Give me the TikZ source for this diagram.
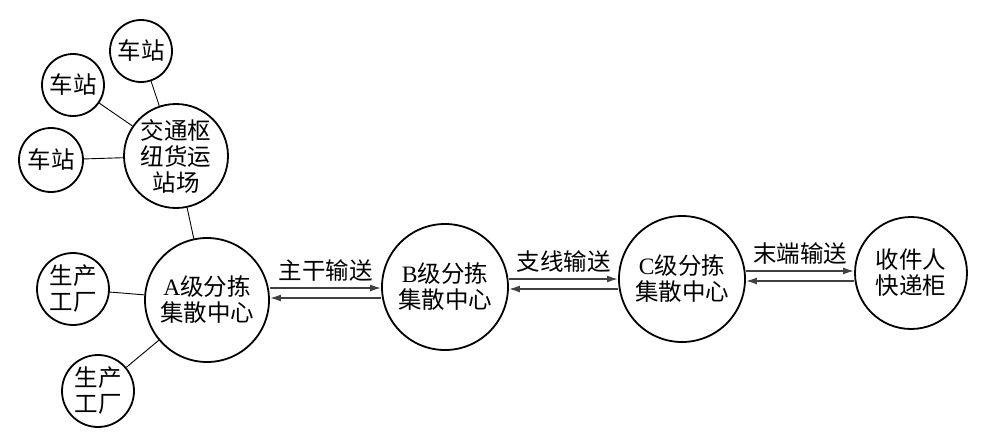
\documentclass[tikz,border=0pt]{standalone}
\usepackage{fontspec}
\setmainfont{Noto Sans CJK SC}
\newfontfamily\latin{Liberation Serif}
\usetikzlibrary{arrows.meta}

\begin{document}
\begin{tikzpicture}[x=1pt,y=-1pt,
  rond/.style={circle,draw,line width=1.8pt,inner sep=0pt,align=center,
    font=\fontsize{23.5}{26}\selectfont},
  lien/.style={line width=0.9pt},
  flux/.style={line width=1.6pt,draw=black!75,-{Latex[length=11pt,width=7pt]}},
  etiq/.style={above=2pt,font=\fontsize{23.5}{26}\selectfont}]
  \useasboundingbox (0,0) rectangle (986,440);
  % stations et gare
  \node[rond,minimum size=62pt] (st1) at (141,51) {车站};
  \node[rond,minimum size=62pt] (st2) at (73,85) {车站};
  \node[rond,minimum size=64pt] (st3) at (51,160) {车站};
  \node[rond,minimum size=104pt] (hub) at (176,156) {交通枢\\纽货运\\站场};
  % usines
  \node[rond,minimum size=72pt] (fa1) at (73,289) {生产\\工厂};
  \node[rond,minimum size=72pt] (fa2) at (98,391) {生产\\工厂};
  % centres
  \node[rond,minimum size=124pt] (A) at (207,300) {{\latin A}级分拣\\集散中心};
  \node[rond,minimum size=126pt] (B) at (445,287) {{\latin B}级分拣\\集散中心};
  \node[rond,minimum size=126pt] (C) at (682,279) {{\latin C}级分拣\\集散中心};
  \node[rond,minimum size=112pt] (D) at (911,273) {收件人\\快递柜};
  % liens
  \foreach \n in {st1,st2,st3}
    \draw[lien] (\n) -- (hub);
  \draw[lien] (hub) -- (A);
  \foreach \n in {fa1,fa2}
    \draw[lien] (\n) -- (A);
  % flux
  \draw[flux] (A.east |- 0,288) -- node[etiq] {主干输送} (B.west |- 0,288);
  \draw[flux] (B.west |- 0,298) -- (A.east |- 0,298);
  \draw[flux] (B.east |- 0,279) -- node[etiq] {支线输送} (C.west |- 0,279);
  \draw[flux] (C.west |- 0,289) -- (B.east |- 0,289);
  \draw[flux] (C.east |- 0,271) -- node[etiq] {末端输送} (D.west |- 0,271);
  \draw[flux] (D.west |- 0,281) -- (C.east |- 0,281);
\end{tikzpicture}
\end{document}
